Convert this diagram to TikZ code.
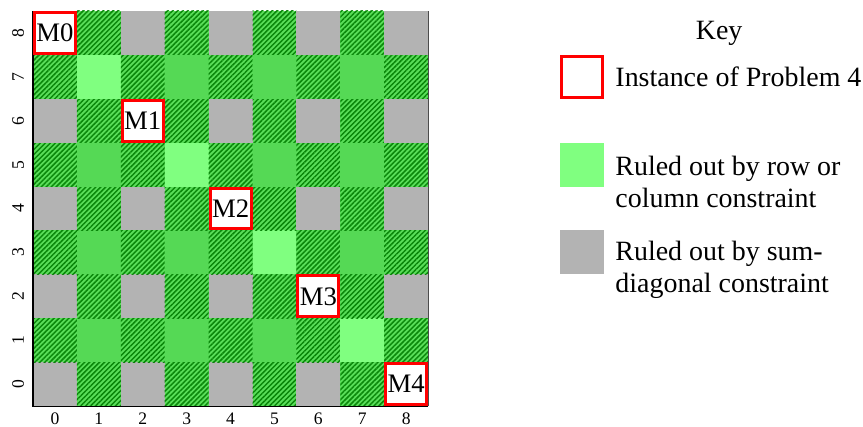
\documentclass[tikz,border=0pt]{standalone}
\usepackage{fontspec}
\setmainfont{Liberation Serif}
\usetikzlibrary{patterns.meta}
\definecolor{lightgrn}{RGB}{128,255,128}
\definecolor{midgrn}{RGB}{85,217,85}
\definecolor{stripegrn}{RGB}{90,222,90}
\definecolor{darkgrn}{RGB}{10,135,10}
\definecolor{sumgray}{RGB}{179,179,179}
\begin{document}
\begin{tikzpicture}[x=0.878cm,y=0.878cm]
      \tikzstyle{every node}+=[inner sep=0pt]
      \tikzstyle{hatched}=[fill=stripegrn, postaction={pattern={Lines[angle=45,distance=2pt,line width=0.85pt]}, pattern color=darkgrn}]
      \tikzstyle{instance}=[draw=red, line width=1.7pt, fill=white, minimum size=0.878cm-1.7pt, font=\fontsize{15.2}{18}\selectfont]
      \tikzstyle{swatch}=[minimum size=0.878cm]
      \tikzstyle{keytext}=[anchor=west, align=left, font=\fontsize{15.9}{18.5}\selectfont]
      \tikzstyle{tick}=[font=\fontsize{10}{12}\selectfont]
      \useasboundingbox (-0.752,-0.476) rectangle (18.907,9.25);
      \foreach \i in {0,...,8} {
        \foreach \j in {0,...,8} {
          \pgfmathtruncatemacro\s{\i+\j}
          \ifodd\i
            \ifodd\j
              \ifnum\s=8 \fill [lightgrn] (\i,\j) rectangle ++(1,1);
              \else \fill [midgrn] (\i,\j) rectangle ++(1,1); \fi
            \else \path [hatched] (\i,\j) rectangle ++(1,1); \fi
          \else
            \ifodd\j \path [hatched] (\i,\j) rectangle ++(1,1);
            \else \fill [sumgray] (\i,\j) rectangle ++(1,1); \fi
          \fi
        }
      }
      \draw [black, line width=0.6pt] (0,9) -- (0,0) -- (9,0);
      \draw [black!70, line width=0.4pt] (9,0) -- (9,9);
      \foreach \k in {0,...,4}
        \node [instance] (m\k) at ({2*\k+0.5},{8.5-2*\k}) {M\k};
      \foreach \k in {0,...,8} {
        \node [tick] (xt\k) at (\k+0.5,-0.29) {\k};
        \node [tick, rotate=90] (yt\k) at (-0.34,\k+0.5) {\k};
      }
      \node [font=\fontsize{15.9}{18.5}\selectfont] (keytitle) at (15.63,8.5) {Key};
      \node [instance] (keyinst) at (12.5,7.5) {};
      \node [swatch, fill=lightgrn] (keyrow) at (12.5,5.5) {};
      \node [swatch, fill=sumgray] (keysum) at (12.5,3.5) {};
      \node [keytext] (instlbl) at (13.26,7.5) {Instance of Problem 4};
      \node [keytext] (rowlbl) at (13.26,5.105) {Ruled out by row or\\column constraint};
      \node [keytext] (sumlbl) at (13.26,3.10) {Ruled out by sum-\\diagonal constraint};
    \end{tikzpicture}
\end{document}
